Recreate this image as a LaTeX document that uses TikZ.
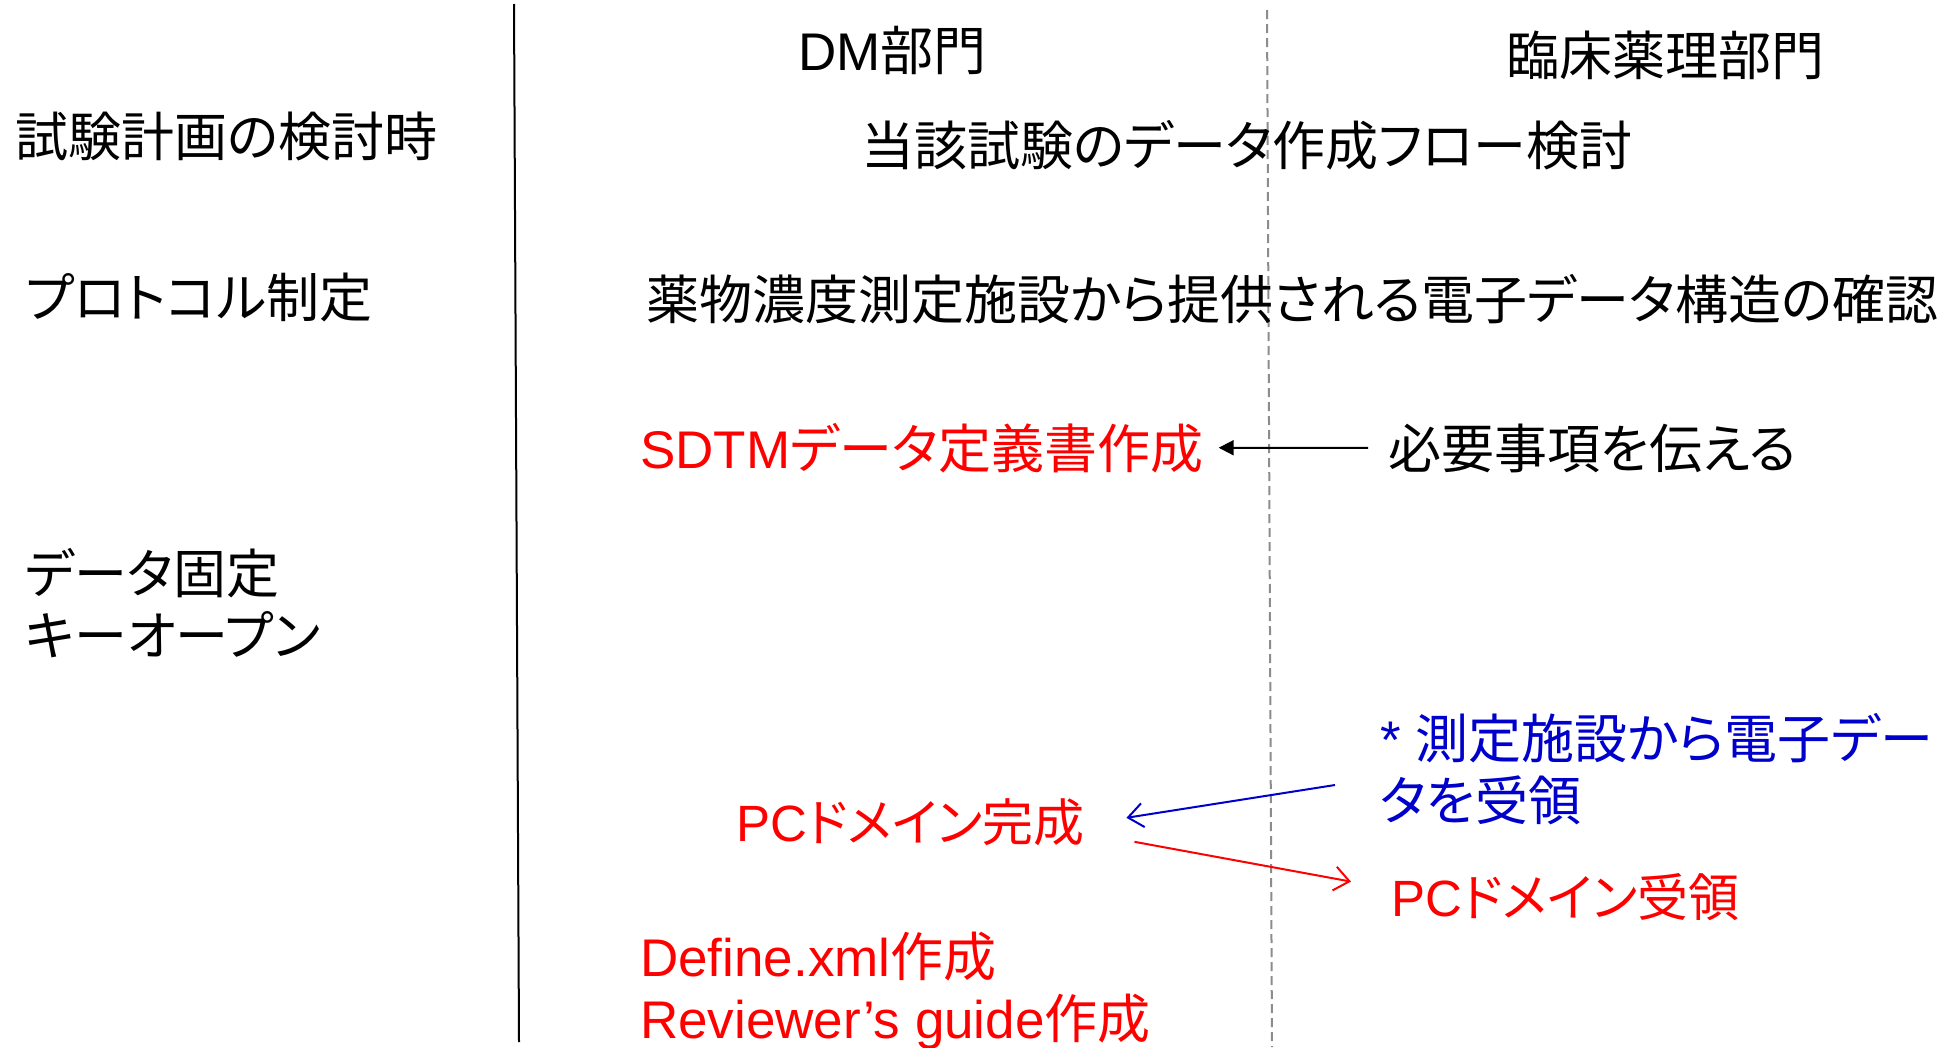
\documentclass[tikz,border=0pt]{standalone}
\usepackage{fontspec}
\setmainfont{Liberation Sans}
\newfontfamily\jp[RawFeature=+palt]{Noto Sans CJK JP}
\usetikzlibrary{arrows.meta}
\definecolor{myred}{RGB}{255,0,0}
\definecolor{myblue}{RGB}{0,0,204}
\definecolor{dashgray}{RGB}{140,140,140}
\begin{document}
\begin{tikzpicture}[x=1pt,y=-1pt,
  txt/.style={anchor=base west, inner sep=0pt, align=left, font=\fontsize{53}{62}\selectfont},
  redtxt/.style={txt, text=myred},
  bluetxt/.style={txt, text=myblue},
  divider/.style={line width=2pt},
  lanedash/.style={dashgray, line width=2pt, dash pattern=on 9pt off 5pt},
  blackarrow/.style={line width=2pt, -{Triangle[length=15pt,width=15pt]}},
  openarrow/.style={line width=2pt, -{Straight Barb[length=15pt,width=24pt]}}]
\useasboundingbox (0,0) rectangle (1956,1047);
\fill[white] (0,0) rectangle (1956,1047);
% lane separators
\draw[divider] (514,4) -- (519,1042);
\draw[lanedash] (1267,10) -- (1272,1047);
% headers
\node[txt] (dm) at (798,70) {DM{\jp 部門}};
\node[txt] (clin) at (1506,75) {\jp 臨床薬理部門};
% phases
\node[txt] (ph1) at (15,156) {\jp 試験計画の検討時};
\node[txt] (ph2) at (25,317) {\jp プロトコル制定};
\node[txt] (ph3) at (25,655) {\jp データ固定\\\jp キーオープン};
% tasks
\node[txt] (flow) at (861,165) {\jp 当該試験のデータ作成フロー検討};
\node[txt] (conf) at (646,319) {\jp 薬物濃度測定施設から提供される電子データ構造の確認};
\node[redtxt] (sdtm) at (640,468) {SDTM{\jp データ定義書作成}};
\node[txt] (need) at (1388,468) {\jp 必要事項を伝える};
\node[bluetxt] (recv) at (1380,820) {* {\jp 測定施設から電子デー}\\{\jp タを受領}};
\node[redtxt, font=\fontsize{51}{62}\selectfont] (pcdone) at (736,841) {PC{\jp ドメイン完成}};
\node[redtxt, font=\fontsize{51}{62}\selectfont] (pcrecv) at (1391,916) {PC{\jp ドメイン受領}};
\node[redtxt] (define) at (640,1038) {Define.xml{\jp 作成}\\Reviewer’s guide{\jp 作成}};
% connectors
\coordinate (bstart) at (1335,785);
\draw[blackarrow] ([xshift=-20]need.west) -- ([xshift=15]sdtm.east);
\draw[openarrow, myblue] (bstart) -- ([shift={(42,-4)}]pcdone.east);
\draw[openarrow, myred] ([shift={(50,20)}]pcdone.east) -- ([shift={(-40,-15)}]pcrecv.west);
\end{tikzpicture}
\end{document}
